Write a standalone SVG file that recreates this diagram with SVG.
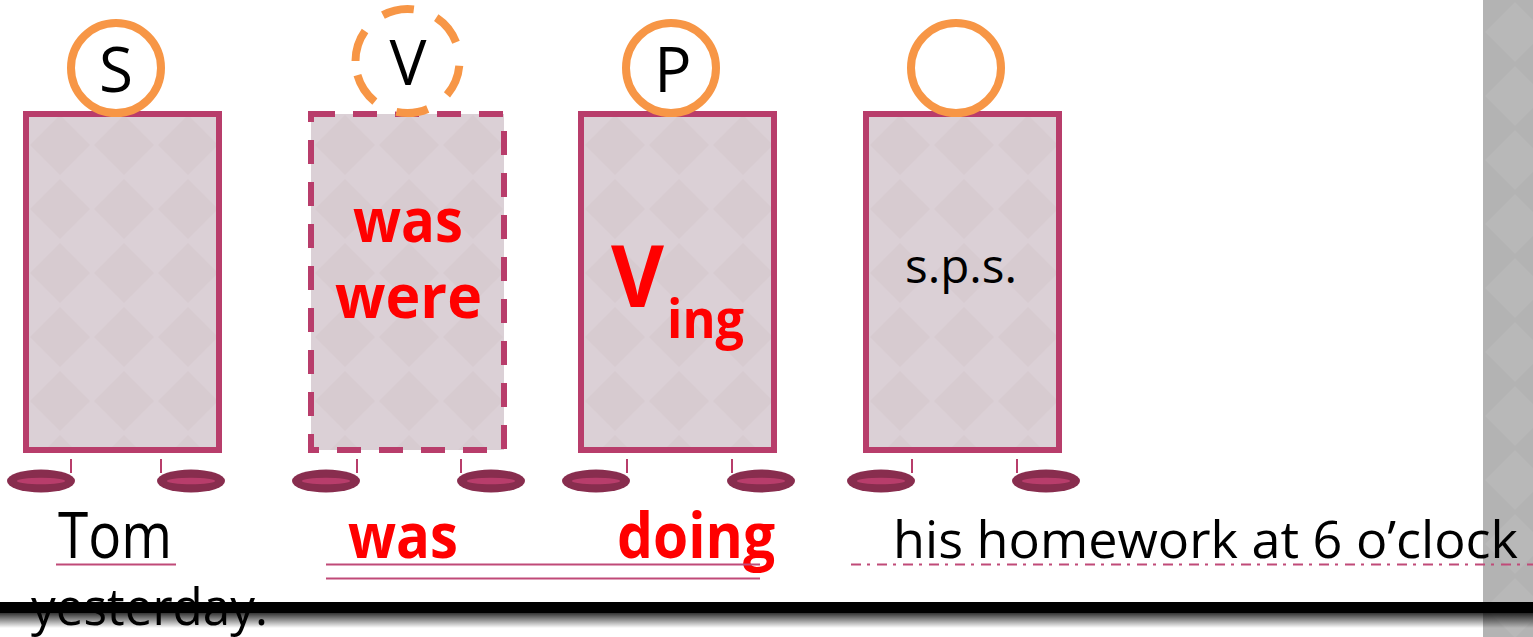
<svg xmlns="http://www.w3.org/2000/svg" width="1533" height="637" viewBox="0 0 1533 637">
<style>
.box{fill:url(#diam);stroke:#b83d6b;stroke-width:6}
.dashed{stroke-dasharray:24 18}
.ring{fill:#ffffff;stroke:#f79646;stroke-width:8}
.wheel{fill:#882d4e}
.hub{fill:#b83d6b}
.axle{stroke:#b83d6b;stroke-width:2}
.t{font-family:"Open Sans","Liberation Sans",sans-serif;fill:#000}
.b{font-weight:bold;fill:#ff0000}
.ul{stroke:#c04a78;stroke-width:2;fill:none}
</style>
<defs>
<pattern id="diam" patternUnits="objectBoundingBox" x="0.0104" y="-0.003" width="0.3316" height="0.1905">
<rect width="64" height="64" fill="#dbd0d6"/>
<path d="M32 2 L62 32 L32 62 L2 32 Z" fill="#d7cbd0"/>
</pattern>
<pattern id="gray" patternUnits="userSpaceOnUse" x="1483" y="0" width="64" height="64">
<rect width="64" height="64" fill="#b3b3b3"/>
<path d="M32 2 L62 32 L32 62 L2 32 Z" fill="#b8b8b8"/>
</pattern>
<linearGradient id="shadow" x1="0" y1="0" x2="0" y2="1">
<stop offset="0" stop-color="#000" stop-opacity="0.8"/>
<stop offset="1" stop-color="#000" stop-opacity="0"/>
</linearGradient>
</defs>
<rect width="1533" height="637" fill="#ffffff"/>
<rect x="1483" y="0" width="50" height="637" fill="url(#gray)"/>

<g id="node-s">
<rect class="box" x="26" y="114" width="193" height="336"/>
<line class="axle" x1="71" y1="459" x2="71" y2="473"/>
<line class="axle" x1="161" y1="459" x2="161" y2="473"/>
<ellipse class="wheel" cx="41" cy="481" rx="34" ry="11.5"/>
<ellipse class="hub" cx="41" cy="481" rx="24" ry="3.3"/>
<ellipse class="wheel" cx="191" cy="481" rx="34" ry="11.5"/>
<ellipse class="hub" cx="191" cy="481" rx="24" ry="3.3"/>
<circle class="ring" cx="116" cy="68" r="45"/>
<text class="t" x="116" y="92" font-size="62" text-anchor="middle">S</text>
</g>

<g id="node-v">
<rect class="box dashed" x="311" y="114" width="193" height="336"/>
<line class="axle" x1="357" y1="459" x2="357" y2="473"/>
<line class="axle" x1="461" y1="459" x2="461" y2="473"/>
<ellipse class="wheel" cx="326" cy="481" rx="34" ry="11.5"/>
<ellipse class="hub" cx="326" cy="481" rx="24" ry="3.3"/>
<ellipse class="wheel" cx="491" cy="481" rx="34" ry="11.5"/>
<ellipse class="hub" cx="491" cy="481" rx="24" ry="3.3"/>
<circle cx="407.5" cy="61" r="52" fill="#ffffff"/>
<path d="M355.5 61 A52 52 0 1 1 459.5 61 A52 52 0 1 1 355.5 61" fill="none" stroke="#f79646" stroke-width="8" stroke-dasharray="32 24"/>
<text class="t" x="408" y="85" font-size="62" text-anchor="middle">V</text>
<text class="t b" x="353" y="242" font-size="60" textLength="110" lengthAdjust="spacingAndGlyphs">was</text>
<text class="t b" x="335" y="318" font-size="60" textLength="147" lengthAdjust="spacingAndGlyphs">were</text>
</g>

<g id="node-p">
<rect class="box" x="581" y="114" width="193" height="336"/>
<line class="axle" x1="627" y1="459" x2="627" y2="473"/>
<line class="axle" x1="732" y1="459" x2="732" y2="473"/>
<ellipse class="wheel" cx="596" cy="481" rx="34" ry="11.5"/>
<ellipse class="hub" cx="596" cy="481" rx="24" ry="3.3"/>
<ellipse class="wheel" cx="761" cy="481" rx="34" ry="11.5"/>
<ellipse class="hub" cx="761" cy="481" rx="24" ry="3.3"/>
<circle class="ring" cx="671" cy="68" r="45"/>
<text class="t" x="673" y="92" font-size="62" text-anchor="middle">P</text>
<text class="t b" x="611" y="307" font-size="86" textLength="53" lengthAdjust="spacingAndGlyphs">V</text>
<text class="t b" x="667" y="338" font-size="54" textLength="77" lengthAdjust="spacingAndGlyphs">ing</text>
</g>

<g id="node-o">
<rect class="box" x="866" y="114" width="193" height="336"/>
<line class="axle" x1="912" y1="459" x2="912" y2="473"/>
<line class="axle" x1="1017" y1="459" x2="1017" y2="473"/>
<ellipse class="wheel" cx="881" cy="481" rx="34" ry="11.5"/>
<ellipse class="hub" cx="881" cy="481" rx="24" ry="3.3"/>
<ellipse class="wheel" cx="1046" cy="481" rx="34" ry="11.5"/>
<ellipse class="hub" cx="1046" cy="481" rx="24" ry="3.3"/>
<circle class="ring" cx="956" cy="68" r="45"/>
<text class="t" x="905" y="283" font-size="48" textLength="112" lengthAdjust="spacingAndGlyphs">s.p.s.</text>
</g>

<g id="sentence">
<text class="t" x="58" y="558" font-size="64" textLength="114" lengthAdjust="spacingAndGlyphs">Tom</text>
<text class="t b" x="348" y="558" font-size="62" textLength="110" lengthAdjust="spacingAndGlyphs">was</text>
<text class="t b" x="617" y="558" font-size="62" textLength="158" lengthAdjust="spacingAndGlyphs">doing</text>
<text class="t" x="893" y="558" font-size="52" textLength="625" lengthAdjust="spacingAndGlyphs">his homework at 6 o’clock</text>
</g>

<g id="underlines">
<line class="ul" x1="56" y1="564.5" x2="176" y2="564.5"/>
<line class="ul" x1="326" y1="564.5" x2="760" y2="564.5"/>
<line class="ul" x1="326" y1="578.5" x2="760" y2="578.5"/>
<line class="ul" x1="851" y1="564.5" x2="1533" y2="564.5" stroke-dasharray="10 6 3 7" stroke-width="2.4"/>
</g>

<g id="baseline-bar">
<rect x="0" y="602" width="1533" height="11" fill="#000"/>
<rect x="0" y="613" width="1533" height="15" fill="url(#shadow)"/>
</g>
<text class="t" x="31" y="625" font-size="52" textLength="237" lengthAdjust="spacingAndGlyphs">yesterday.</text>
</svg>
